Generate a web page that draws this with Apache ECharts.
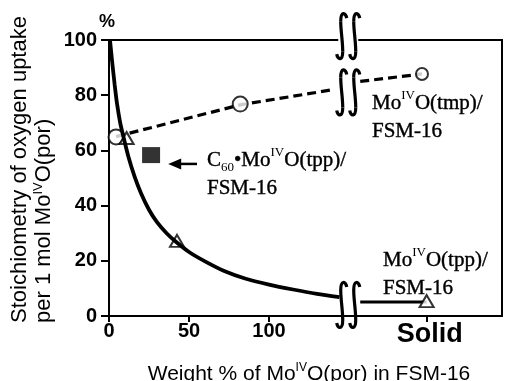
<!DOCTYPE html>
<html><head><meta charset="utf-8">
<script src="https://cdn.jsdelivr.net/npm/echarts@6/dist/echarts.min.js"></script>
<style>html,body{margin:0;padding:0;background:#fff}#c{width:505px;height:381px}</style>
</head><body><div id="c"></div>
<script>
// ---- data ----
const yTicks = [0, 20, 40, 60, 80, 100];
const xTickValues = [0, 50, 100, 198.5];
const xTickLabels = ['0', '50', '100', 'Solid'];
const tppCurve = [[0.6,100],[2,92],[3.5,84],[5,77],[7,70],[9,65],[12,58],[16,50.5],[20,44.5],[25,38.5],[30,34],[36,30],[42,26.8],[50,23.2],[60,19.8],[72,16.3],[85,13.6],[100,11.4],[115,9.6],[130,8],[144,6.8]];
const tppSolidLine = [[157,5.1],[198.5,5.1]];
const tmpDash1 = [[4.4,65],[82,76.5],[140,82]];
const tmpDash2 = [[157,85],[195.6,87.7]];
const tmpPoints = [[4.4,64.9],[82,76.8]];
const tmpSolidPoint = [[195.6,87.7]];
const tppPoints = [[11,64.5],[42.5,27.2],[198.5,5.4]];
const c60Points = [[26.3,58.3]];
const breakX = 149.5;
const breakYs = [101.4, 81, 4];

const SANS = '"Liberation Sans", Arial, sans-serif';
const SERIF = '"Liberation Serif", "Times New Roman", serif';

const chart = echarts.init(document.getElementById('c'), null, {renderer: 'canvas'});
const option = {
  animation: false,
  backgroundColor: '#fff',
  grid: {left: 109, top: 40, right: 3, bottom: 65, show: true, borderColor: '#000', borderWidth: 2, backgroundColor: 'transparent'},
  xAxis: {
    type: 'value', min: 0, max: 245.6,
    axisLine: {show: true, onZero: false, lineStyle: {color: '#000', width: 2}},
    splitLine: {show: false},
    axisTick: {show: true, customValues: xTickValues, length: 6, lineStyle: {color: '#000', width: 2}},
    axisLabel: {
      customValues: xTickValues, margin: 5, color: '#000', fontFamily: SANS, fontWeight: 'bold', fontSize: 20,
      formatter: function (v) {
        const i = xTickValues.indexOf(v);
        if (i < 0) return '';
        return i === 3 ? '{s|' + xTickLabels[i] + '}' : xTickLabels[i];
      },
      rich: {s: {fontSize: 27, fontWeight: 'bold', fontFamily: SANS, color: '#000', padding: [0, 0, 0, 6]}}
    }
  },
  yAxis: {
    type: 'value', min: 0, max: 100, interval: 20,
    axisLine: {show: true, lineStyle: {color: '#000', width: 2}},
    splitLine: {show: false},
    axisTick: {show: true, length: 8, lineStyle: {color: '#000', width: 2}},
    axisLabel: {margin: 12, color: '#000', fontFamily: SANS, fontWeight: 'bold', fontSize: 20,
      formatter: function (v) { return yTicks.indexOf(v) >= 0 ? String(v) : ''; }}
  },
  series: [
    {type: 'line', data: tmpDash1, symbol: 'none', lineStyle: {color: '#000', width: 3.2, type: [9, 5]}, z: 2},
    {type: 'line', data: tmpDash2, symbol: 'none', lineStyle: {color: '#000', width: 3.2, type: [9, 5]}, z: 2},
    {type: 'scatter', data: tmpPoints, symbol: 'circle', symbolSize: 15, itemStyle: {color: '#fff', borderColor: '#000', borderWidth: 2}, z: 3},
    {type: 'scatter', data: tmpSolidPoint, symbol: 'circle', symbolSize: 12, itemStyle: {color: '#fff', borderColor: '#000', borderWidth: 2}, z: 3},
    {type: 'scatter', data: tppPoints, symbol: 'triangle', symbolSize: [14, 12], itemStyle: {color: '#fff', borderColor: '#000', borderWidth: 2}, z: 3},
    {type: 'scatter', data: c60Points, symbol: 'rect', symbolSize: [18, 16], itemStyle: {color: '#000'}, z: 3},
    {type: 'line', data: tppCurve, symbol: 'none', smooth: 0.25, lineStyle: {color: '#000', width: 3.8}, z: 4},
    {type: 'line', data: tppSolidLine, symbol: 'none', lineStyle: {color: '#000', width: 3}, z: 2}
  ]
};
chart.setOption(option);

// ---- decorations ----
function integralCurves(dx) {
  const segs = [
    [dx + 5, -18, dx + 4, -24, dx - 1, -25, dx - 1, -15],
    [dx - 1, -15, dx - 1, -5, dx + 1, 5, dx + 1, 15],
    [dx + 1, 15, dx + 1, 25, dx - 4, 24, dx - 5, 18]
  ];
  return segs.map(function (s) {
    return {type: 'bezierCurve', shape: {x1: s[0], y1: s[1], cpx1: s[2], cpy1: s[3], cpx2: s[4], cpy2: s[5], x2: s[6], y2: s[7]},
      style: {stroke: '#000', lineWidth: 3.2, fill: null, lineCap: 'butt'}};
  });
}
const rectCover = [[-10, -4, 20, 10], [-10, -8, 20, 16], [-10, 4, 20, 14]];
const graphics = breakYs.map(function (v, i) {
  const p = chart.convertToPixel({gridIndex: 0}, [breakX, v]);
  const r = rectCover[i];
  return {
    type: 'group', x: p[0], y: p[1], z: 100,
    children: [{type: 'rect', shape: {x: r[0], y: r[1], width: r[2], height: r[3]}, style: {fill: '#fff'}}]
      .concat(integralCurves(-6.5)).concat(integralCurves(6.5))
  };
});

const tipPx = chart.convertToPixel({gridIndex: 0}, [37, 55.1]);
const tailPx = chart.convertToPixel({gridIndex: 0}, [55, 55.1]);
graphics.push({type: 'line', shape: {x1: tailPx[0], y1: tailPx[1], x2: tipPx[0] + 10, y2: tipPx[1]}, style: {stroke: '#000', lineWidth: 2.5}, z: 100});
graphics.push({type: 'polygon', shape: {points: [[tipPx[0], tipPx[1]], [tipPx[0] + 13, tipPx[1] - 5.5], [tipPx[0] + 13, tipPx[1] + 5.5]]}, style: {fill: '#000'}, z: 100});

const serifRich = {
  n: {fontFamily: SERIF, fontSize: 21, lineHeight: 28, fill: '#000', stroke: '#000', lineWidth: 0.4},
  sup: {fontFamily: SERIF, fontSize: 13, lineHeight: 22, verticalAlign: 'top', fill: '#000'},
  sub: {fontFamily: SERIF, fontSize: 13, lineHeight: 20, verticalAlign: 'bottom', fill: '#000'}
};
function serifText(x, y, text) {
  return {type: 'text', x: x, y: y, z: 100, style: {text: text, rich: serifRich, fontFamily: SERIF, fontSize: 21, lineHeight: 28, fill: '#000', align: 'left', verticalAlign: 'top'}};
}
graphics.push(serifText(372, 89, '{n|Mo}{sup|IV}{n|O(tmp)/}\n{n|FSM-16}'));
graphics.push(serifText(207, 146, '{n|C}{sub|60}{n|•Mo}{sup|IV}{n|O(tpp)/}\n{n|FSM-16}'));
graphics.push(serifText(383, 246, '{n|Mo}{sup|IV}{n|O(tpp)/}\n{n|FSM-16}'));

const sansRich = {
  n: {fontFamily: SANS, fontSize: 21, lineHeight: 24, fill: '#000'},
  sup: {fontFamily: SANS, fontSize: 12, lineHeight: 18, verticalAlign: 'top', fill: '#000'}
};
const sansRichY = {
  n: {fontFamily: SANS, fontSize: 22, lineHeight: 24, fill: '#000'},
  sup: {fontFamily: SANS, fontSize: 13, lineHeight: 18, verticalAlign: 'top', fill: '#000'}
};
graphics.push({type: 'text', x: 309, y: 374, z: 100, style: {text: '{n|Weight % of Mo}{sup|IV}{n|O(por) in FSM-16}', rich: sansRich, fontFamily: SANS, fontSize: 21, fill: '#000', align: 'center', verticalAlign: 'middle'}});
graphics.push({type: 'text', x: 20, y: 323, rotation: Math.PI / 2, z: 100, style: {text: '{n|Stoichiometry of oxygen uptake}', rich: sansRichY, fontFamily: SANS, fontSize: 22, fill: '#000', align: 'left', verticalAlign: 'middle'}});
graphics.push({type: 'text', x: 44, y: 323, rotation: Math.PI / 2, z: 100, style: {text: '{n|per 1 mol Mo}{sup|IV}{n|O(por)}', rich: sansRichY, fontFamily: SANS, fontSize: 22, fill: '#000', align: 'left', verticalAlign: 'middle'}});
graphics.push({type: 'text', x: 107, y: 22, z: 100, style: {text: '%', fontFamily: SANS, fontWeight: 'bold', fontSize: 18, fill: '#000', align: 'center', verticalAlign: 'middle'}});

chart.setOption({graphic: graphics});
</script></body></html>
